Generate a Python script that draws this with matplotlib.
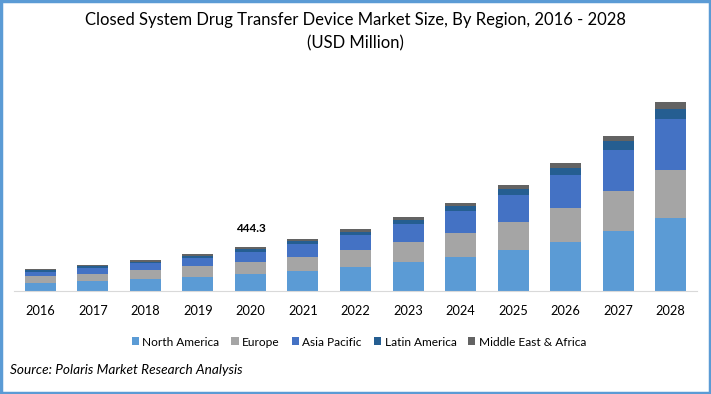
import numpy as np
import matplotlib.pyplot as plt
from matplotlib.patches import Rectangle

years = ["2016", "2017", "2018", "2019", "2020", "2021", "2022",
         "2023", "2024", "2025", "2026", "2027", "2028"]
north_america = [81, 101, 121, 141, 172, 202, 242, 293, 343, 414, 495, 606, 737]
europe = [71, 71, 91, 111, 121, 141, 172, 202, 242, 283, 343, 404, 485]
asia_pacific = [44, 61, 71, 84, 101, 131, 152, 182, 222, 273, 333, 414, 515]
latin_america = [17, 20, 13, 17, 27, 30, 30, 40, 51, 61, 71, 91, 101]
mea = [10, 10, 17, 20, 23, 20, 30, 30, 30, 40, 51, 51, 71]

series = [("North America", north_america, "#5B9BD5"),
          ("Europe", europe, "#A5A5A5"),
          ("Asia Pacific", asia_pacific, "#4472C4"),
          ("Latin America", latin_america, "#255E91"),
          ("Middle East & Africa", mea, "#636363")]

plt.rcParams['font.family'] = ['Lato', 'DejaVu Sans']

W, H = 711, 394
fig = plt.figure(figsize=(W / 100, H / 100), dpi=100)
ax = fig.add_axes([14 / W, 1 - 291 / H, 683 / W, 200 / H])

x = np.arange(len(years))
bottom = np.zeros(len(years))
for name, vals, color in series:
    ax.bar(x, vals, 0.59, bottom=bottom, color=color, label=name)
    bottom += np.array(vals)

ax.set_xlim(-0.5, len(years) - 0.5)
ax.set_ylim(0, 2020)
ax.set_xticks(x)
ax.set_xticklabels(years, fontsize=9.2)
ax.tick_params(axis='x', length=0, pad=10)
ax.set_yticks([])
for s in ["top", "right", "left"]:
    ax.spines[s].set_visible(False)
ax.spines["bottom"].set_color("#D9D9D9")

# value label on 2020
i2020 = years.index("2020")
ax.text(i2020, bottom[i2020] + 130, "444.3", ha="center", va="bottom",
        fontsize=8.5, fontweight="bold")

fig.text(0.5, 1 - 20 / H, "Closed System Drug Transfer Device Market Size, By Region, 2016 - 2028",
         ha="center", va="center", fontsize=12)
fig.text(0.5, 1 - 43 / H, "(USD Million)", ha="center", va="center", fontsize=12)

handles, labels = ax.get_legend_handles_labels()
fig.legend(handles, labels, loc="center", bbox_to_anchor=(359 / W, 1 - 342 / H), ncol=5,
           frameon=False, handlelength=0.6, handleheight=0.6,
           handletextpad=0.3, columnspacing=1.0, prop={'size': 8.6})

fig.text(10 / W, 1 - 370 / H, "Source: Polaris Market Research Analysis", ha="left", va="center",
         fontsize=9.8, style="italic")

fig.patches.append(Rectangle((0.0015, 0.003), 0.997, 0.994, transform=fig.transFigure,
                             fill=False, edgecolor="#5B9BD5", linewidth=2.5))

fig.savefig("out.png", dpi=100)
